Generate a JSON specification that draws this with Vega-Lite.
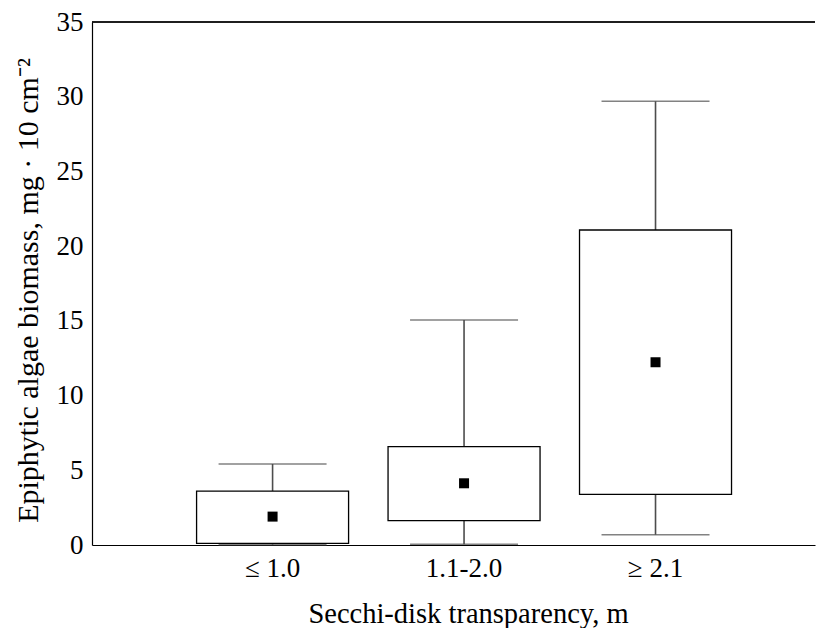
{
  "$schema": "https://vega.github.io/schema/vega-lite/v6.json",
  "width": 723,
  "height": 523,
  "autosize": {"type": "none"},
  "padding": {"left": 92, "top": 22, "right": 8, "bottom": 83},
  "background": "white",
  "config": {
    "view": {"stroke": null},
    "font": "Liberation Serif",
    "axis": {
      "labelFont": "Liberation Serif",
      "titleFont": "Liberation Serif",
      "labelColor": "black",
      "titleColor": "black",
      "titleFontWeight": "normal",
      "domainColor": "black",
      "domainWidth": 1.2,
      "ticks": false,
      "tickSize": 0,
      "grid": false
    }
  },
  "data": {
    "values": [
      {"cat": "≤ 1.0", "min": 0.02, "q1": 0.11, "q3": 3.61, "max": 5.42, "mean": 1.9},
      {"cat": "1.1-2.0", "min": 0.05, "q1": 1.63, "q3": 6.58, "max": 15.06, "mean": 4.13},
      {"cat": "≥ 2.1", "min": 0.69, "q1": 3.39, "q3": 21.08, "max": 29.7, "mean": 12.23}
    ]
  },
  "encoding": {
    "x": {
      "field": "cat",
      "type": "nominal",
      "sort": null,
      "scale": {"paddingInner": 0, "paddingOuter": 0.388, "align": 0.571},
      "axis": {
        "title": "Secchi-disk transparency, m",
        "labelAngle": 0,
        "labelFontSize": 27,
        "labelPadding": 10,
        "titleFontSize": 28.5,
        "titleX": 376,
        "titleY": 77,
        "titleBaseline": "alphabetic"
      }
    }
  },
  "layer": [
    {
      "mark": {"type": "rule", "color": "black", "strokeWidth": 1.2},
      "encoding": {"x": null, "y": {"datum": 35, "type": "quantitative"}}
    },
    {
      "mark": {"type": "rule", "color": "#4d4d4d", "strokeWidth": 1.6},
      "encoding": {
        "y": {
          "field": "min",
          "type": "quantitative",
          "scale": {"domain": [0, 35], "nice": false},
          "axis": {
            "title": "Epiphytic algae biomass, mg · 10 cm⁻²",
            "values": [0, 5, 10, 15, 20, 25, 30, 35],
            "labelFontSize": 27,
            "labelPadding": 9,
            "titleFontSize": 30,
            "titleAngle": -90,
            "titleX": -55,
            "titleY": 268,
            "titleAlign": "center",
            "titleBaseline": "alphabetic"
          }
        },
        "y2": {"field": "max"}
      }
    },
    {
      "mark": {"type": "tick", "color": "#4d4d4d", "size": 108, "thickness": 1.6, "orient": "horizontal"},
      "encoding": {"y": {"field": "max", "type": "quantitative"}}
    },
    {
      "mark": {"type": "tick", "color": "#4d4d4d", "size": 108, "thickness": 1.6, "orient": "horizontal"},
      "encoding": {"y": {"field": "min", "type": "quantitative"}}
    },
    {
      "mark": {"type": "bar", "width": 152, "fill": "white", "stroke": "black", "strokeWidth": 1.3},
      "encoding": {
        "y": {"field": "q1", "type": "quantitative"},
        "y2": {"field": "q3"}
      }
    },
    {
      "mark": {"type": "point", "shape": "square", "filled": true, "size": 100, "color": "black", "opacity": 1},
      "encoding": {"y": {"field": "mean", "type": "quantitative"}}
    }
  ]
}
